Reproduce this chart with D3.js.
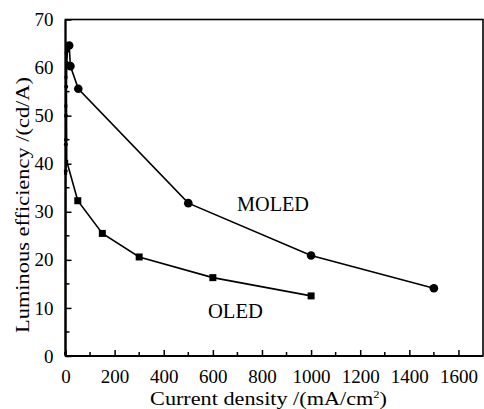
<!DOCTYPE html>
<html><head><meta charset="utf-8">
<script src="https://cdn.jsdelivr.net/npm/d3@7"></script>
<style>body{margin:0;background:#fff}svg{display:block}</style>
</head><body>
<svg id="c" width="484" height="409"></svg>
<script>
const xTicks = [0,200,400,600,800,1000,1200,1400,1600];
const yTicks = [0,10,20,30,40,50,60,70];
const moledX = [1, 1.5, 2, 3, 5, 8, 15, 20, 52, 500, 1000, 1500];
const moledY = [38.5, 44, 50, 56, 61, 63.5, 64.6, 60.3, 55.6, 31.8, 20.9, 14.1];
const oledX = [0, 0.5, 1, 1.5, 2, 3, 5, 50, 150, 300, 600, 1000];
const oledY = [0.5, 38, 45, 52, 58, 63, 40.5, 32.3, 25.5, 20.6, 16.3, 12.5];
const seriesNames = ["MOLED", "OLED"];
const xTitle = "Current density /(mA/cm";
const yTitle = "Luminous efficiency /(cd/A)";

const FONT = "Liberation Serif";
const svg = d3.select("#c");
const L = 65.5, R = 483, T = 19.5, B = 356;
const x = d3.scaleLinear().domain([0,1700]).range([L,R]);
const y = d3.scaleLinear().domain([0,70]).range([B,T]);

svg.append("rect").attr("x",L).attr("y",T).attr("width",R-L).attr("height",B-T)
  .attr("fill","none").attr("stroke","#000").attr("stroke-width",1.6);

const xMinor = d3.range(100,1700,200);
const gx = svg.append("g").attr("transform",`translate(0,${B})`);
gx.call(d3.axisBottom(x).tickValues(xTicks).tickSize(-6).tickPadding(14).tickFormat(d3.format("d")));
gx.attr("font-family", FONT).attr("font-size",19);
gx.select(".domain").remove();
gx.selectAll(".tick line").attr("stroke-width",1.5);
gx.selectAll("text").attr("font-family", FONT).attr("font-size",19).attr("dy","0.71em").attr("fill","#000");
gx.selectAll(".minor").data(xMinor).enter().append("line")
  .attr("x1",d=>x(d)).attr("x2",d=>x(d)).attr("y1",0).attr("y2",-4).attr("stroke","#000").attr("stroke-width",1.5);

const yMinor = d3.range(5,70,10);
const gy = svg.append("g").attr("transform",`translate(${L},0)`);
gy.call(d3.axisLeft(y).tickValues(yTicks).tickSize(-6).tickPadding(12).tickFormat(d3.format("d")));
gy.attr("font-family", FONT).attr("font-size",19);
gy.select(".domain").remove();
gy.selectAll(".tick line").attr("stroke-width",1.5);
gy.selectAll("text").attr("font-family", FONT).attr("font-size",19).attr("fill","#000");
gy.selectAll(".minor").data(yMinor).enter().append("line")
  .attr("y1",d=>y(d)).attr("y2",d=>y(d)).attr("x1",0).attr("x2",4).attr("stroke","#000").attr("stroke-width",1.5);

svg.append("line").attr("x1",L).attr("x2",L).attr("y1",T).attr("y2",B).attr("stroke","#000").attr("stroke-width",2);
svg.append("line").attr("x1",L).attr("x2",R).attr("y1",B).attr("y2",B).attr("stroke","#000").attr("stroke-width",2);

const line = d3.line().x(d=>x(d[0])).y(d=>y(d[1]));
const moled = moledX.map((v,i)=>[v,moledY[i]]);
const oled = oledX.map((v,i)=>[v,oledY[i]]);

svg.append("path").datum(moled).attr("d",line).attr("fill","none").attr("stroke","#000").attr("stroke-width",1.6);
svg.append("path").datum(oled).attr("d",line).attr("fill","none").attr("stroke","#000").attr("stroke-width",1.6);

svg.selectAll(".cm").data(moled).enter().append("circle")
  .attr("cx",d=>x(d[0])).attr("cy",d=>y(d[1])).attr("r",d=>d[0]<12?2:4.3).attr("fill","#000");
svg.selectAll(".sq").data(oled).enter().append("rect")
  .attr("x",d=>x(d[0])-(d[0]<10?1.5:3.5)).attr("y",d=>y(d[1])-(d[0]<10?1.5:3.5))
  .attr("width",d=>d[0]<10?3:7).attr("height",d=>d[0]<10?3:7).attr("fill","#000");

// fit text horizontally to a target width (reference uses a wider serif face)
function fitWidth(sel, target){
  const w = sel.node().getComputedTextLength ? sel.node().getBBox().width : 0;
  return w > 0 ? target / w : 1;
}

function label(txt, cx, baseY, size, target){
  const g = svg.append("g").attr("transform",`translate(${cx},${baseY})`);
  const t = g.append("text").attr("font-family",FONT).attr("text-anchor","middle").attr("font-size",size).text(txt);
  const s = fitWidth(t, target);
  t.attr("transform",`scale(${s},1)`);
}
label(seriesNames[0], x(845), y(30.2), 20, 72);
label(seriesNames[1], x(692), y(7.9), 20, 55);

// x title
{
  const g = svg.append("g").attr("transform",`translate(268.5,405)`);
  const xt = g.append("text").attr("font-family",FONT).attr("text-anchor","middle").attr("font-size",19.5);
  xt.append("tspan").text(xTitle);
  xt.append("tspan").attr("font-size",11).attr("dy",-7).text("2");
  xt.append("tspan").attr("dy",7).text(")");
  const s = fitWidth(xt, 237);
  xt.attr("transform",`scale(${s},1)`);
}
// y title
{
  const g = svg.append("g").attr("transform",`translate(29,205) rotate(-90)`);
  const yt = g.append("text").attr("font-family",FONT).attr("text-anchor","middle").attr("font-size",19.5).text(yTitle);
  const s = fitWidth(yt, 256);
  yt.attr("transform",`scale(${s},1)`);
}
</script>
</body></html>
